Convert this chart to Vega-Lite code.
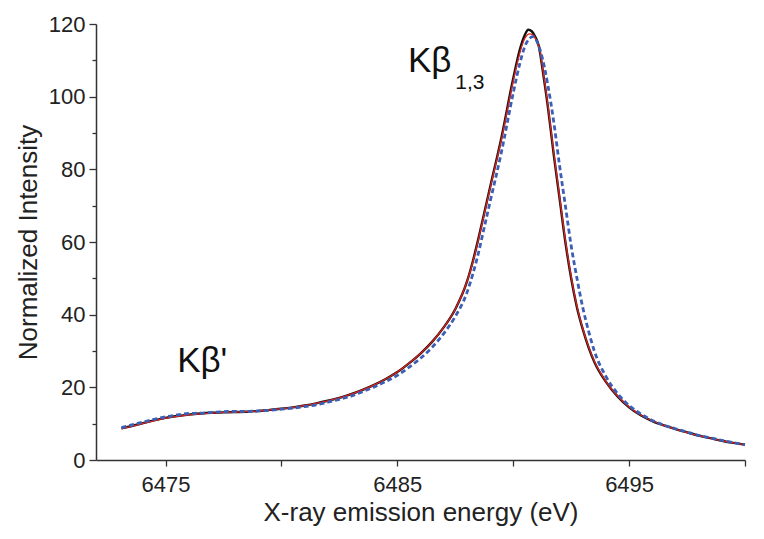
{
  "$schema": "https://vega.github.io/schema/vega-lite/v6.json",
  "width": 649,
  "height": 436,
  "autosize": {"type": "none"},
  "padding": {"left": 96, "top": 24, "right": 19, "bottom": 79},
  "background": "white",
  "config": {
    "view": {"stroke": null},
    "font": "Liberation Sans",
    "axis": {"grid": false, "domainColor": "#333", "domainWidth": 1.5, "tickColor": "#333", "tickWidth": 1.3, "labelColor": "#222", "titleColor": "#222", "labelFont": "Liberation Sans", "titleFont": "Liberation Sans", "titleFontWeight": "normal", "labelFontSize": 22, "titleFontSize": 26}
  },
  "datasets": {
    "black": [
      {"E": 6473.1, "I": 8.7}, {"E": 6473.5, "I": 9.3}, {"E": 6474.0, "I": 10.1},
      {"E": 6474.5, "I": 10.9}, {"E": 6475.0, "I": 11.6}, {"E": 6475.5, "I": 12.1}, {"E": 6476.0, "I": 12.5},
      {"E": 6476.5, "I": 12.8}, {"E": 6477.0, "I": 13.0}, {"E": 6477.5, "I": 13.1}, {"E": 6478.0, "I": 13.2},
      {"E": 6478.5, "I": 13.3}, {"E": 6479.0, "I": 13.5}, {"E": 6479.5, "I": 13.8}, {"E": 6480.0, "I": 14.1},
      {"E": 6480.5, "I": 14.5}, {"E": 6481.0, "I": 15.0}, {"E": 6481.5, "I": 15.6}, {"E": 6482.0, "I": 16.3},
      {"E": 6482.5, "I": 17.1}, {"E": 6483.0, "I": 18.1}, {"E": 6483.5, "I": 19.3}, {"E": 6484.0, "I": 20.7},
      {"E": 6484.5, "I": 22.3}, {"E": 6485.0, "I": 24.2}, {"E": 6485.5, "I": 26.6}, {"E": 6486.0, "I": 29.3},
      {"E": 6486.5, "I": 32.5}, {"E": 6487.0, "I": 36.5}, {"E": 6487.5, "I": 41.5}, {"E": 6488.0, "I": 49.0},
      {"E": 6488.25, "I": 54.5}, {"E": 6488.5, "I": 61.0}, {"E": 6488.75, "I": 68.0}, {"E": 6489.0, "I": 75.0},
      {"E": 6489.5, "I": 89.0}, {"E": 6490.0, "I": 105.0},
      {"E": 6490.3, "I": 113.3}, {"E": 6490.5, "I": 117.0}, {"E": 6490.65, "I": 118.4}, {"E": 6490.8, "I": 118.0},
      {"E": 6490.95, "I": 116.5}, {"E": 6491.1, "I": 114.0}, {"E": 6491.3, "I": 106.0}, {"E": 6491.5, "I": 97.0},
      {"E": 6491.75, "I": 84.0}, {"E": 6492.0, "I": 72.0}, {"E": 6492.25, "I": 60.0}, {"E": 6492.5, "I": 50.0},
      {"E": 6492.75, "I": 42.0}, {"E": 6493.0, "I": 36.0}, {"E": 6493.25, "I": 31.0}, {"E": 6493.5, "I": 27.0},
      {"E": 6494.0, "I": 21.5}, {"E": 6494.5, "I": 17.5}, {"E": 6495.0, "I": 14.5}, {"E": 6495.5, "I": 12.3},
      {"E": 6496.0, "I": 10.7}, {"E": 6496.5, "I": 9.5}, {"E": 6497.0, "I": 8.5}, {"E": 6497.5, "I": 7.6},
      {"E": 6498.0, "I": 6.7}, {"E": 6498.5, "I": 6.0}, {"E": 6499.0, "I": 5.3}, {"E": 6499.5, "I": 4.7},
      {"E": 6500.0, "I": 4.2}
    ],
    "red": [
      {"E": 6473.1, "I": 8.6}, {"E": 6473.5, "I": 9.2}, {"E": 6474.0, "I": 10.0},
      {"E": 6474.5, "I": 10.8}, {"E": 6475.0, "I": 11.5}, {"E": 6475.5, "I": 12.0}, {"E": 6476.0, "I": 12.4},
      {"E": 6476.5, "I": 12.7}, {"E": 6477.0, "I": 12.9}, {"E": 6477.5, "I": 13.1}, {"E": 6478.0, "I": 13.2},
      {"E": 6478.5, "I": 13.3}, {"E": 6479.0, "I": 13.5}, {"E": 6479.5, "I": 13.8}, {"E": 6480.0, "I": 14.1},
      {"E": 6480.5, "I": 14.5}, {"E": 6481.0, "I": 15.0}, {"E": 6481.5, "I": 15.6}, {"E": 6482.0, "I": 16.3},
      {"E": 6482.5, "I": 17.1}, {"E": 6483.0, "I": 18.1}, {"E": 6483.5, "I": 19.3}, {"E": 6484.0, "I": 20.7},
      {"E": 6484.5, "I": 22.3}, {"E": 6485.0, "I": 24.2}, {"E": 6485.5, "I": 26.6}, {"E": 6486.0, "I": 29.3},
      {"E": 6486.5, "I": 32.5}, {"E": 6487.0, "I": 36.5}, {"E": 6487.5, "I": 41.5}, {"E": 6488.0, "I": 49.0},
      {"E": 6488.25, "I": 54.3}, {"E": 6488.5, "I": 60.7}, {"E": 6488.75, "I": 67.7}, {"E": 6489.0, "I": 74.7},
      {"E": 6489.5, "I": 88.5}, {"E": 6490.0, "I": 104.3},
      {"E": 6490.3, "I": 112.4}, {"E": 6490.5, "I": 116.0}, {"E": 6490.7, "I": 117.3}, {"E": 6490.85, "I": 117.0},
      {"E": 6491.0, "I": 115.5}, {"E": 6491.15, "I": 112.5}, {"E": 6491.3, "I": 106.5}, {"E": 6491.5, "I": 97.5},
      {"E": 6491.75, "I": 84.5}, {"E": 6492.0, "I": 72.5}, {"E": 6492.25, "I": 60.5}, {"E": 6492.5, "I": 50.5},
      {"E": 6492.75, "I": 42.3}, {"E": 6493.0, "I": 36.2}, {"E": 6493.25, "I": 31.2}, {"E": 6493.5, "I": 27.2},
      {"E": 6494.0, "I": 21.6}, {"E": 6494.5, "I": 17.6}, {"E": 6495.0, "I": 14.6}, {"E": 6495.5, "I": 12.4},
      {"E": 6496.0, "I": 10.8}, {"E": 6496.5, "I": 9.5}, {"E": 6497.0, "I": 8.5}, {"E": 6497.5, "I": 7.6},
      {"E": 6498.0, "I": 6.7}, {"E": 6498.5, "I": 6.0}, {"E": 6499.0, "I": 5.3}, {"E": 6499.5, "I": 4.7},
      {"E": 6500.0, "I": 4.2}
    ],
    "blue": [
      {"E": 6473.1, "I": 8.9}, {"E": 6473.5, "I": 9.6}, {"E": 6474.0, "I": 10.4},
      {"E": 6474.5, "I": 11.2}, {"E": 6475.0, "I": 11.9}, {"E": 6475.5, "I": 12.4}, {"E": 6476.0, "I": 12.8},
      {"E": 6476.5, "I": 12.9}, {"E": 6477.0, "I": 13.1}, {"E": 6477.5, "I": 13.3}, {"E": 6478.0, "I": 13.4},
      {"E": 6478.5, "I": 13.4}, {"E": 6479.0, "I": 13.5}, {"E": 6479.5, "I": 13.7}, {"E": 6480.0, "I": 14.0},
      {"E": 6480.5, "I": 14.3}, {"E": 6481.0, "I": 14.7}, {"E": 6481.5, "I": 15.2}, {"E": 6482.0, "I": 15.9},
      {"E": 6482.5, "I": 16.7}, {"E": 6483.0, "I": 17.6}, {"E": 6483.5, "I": 18.8}, {"E": 6484.0, "I": 20.1},
      {"E": 6484.5, "I": 21.6}, {"E": 6485.0, "I": 23.3}, {"E": 6485.5, "I": 25.5}, {"E": 6486.0, "I": 28.0},
      {"E": 6486.5, "I": 31.0}, {"E": 6487.0, "I": 34.8}, {"E": 6487.5, "I": 39.5}, {"E": 6488.0, "I": 46.0},
      {"E": 6488.25, "I": 51.0}, {"E": 6488.5, "I": 57.0}, {"E": 6488.75, "I": 64.0}, {"E": 6489.0, "I": 71.0},
      {"E": 6489.5, "I": 85.0}, {"E": 6490.0, "I": 101.0},
      {"E": 6490.3, "I": 109.5}, {"E": 6490.5, "I": 113.8}, {"E": 6490.7, "I": 116.0}, {"E": 6490.85, "I": 116.5},
      {"E": 6491.0, "I": 115.5}, {"E": 6491.2, "I": 112.0}, {"E": 6491.5, "I": 103.0}, {"E": 6491.75, "I": 93.0},
      {"E": 6492.0, "I": 81.0}, {"E": 6492.25, "I": 70.0}, {"E": 6492.5, "I": 59.0}, {"E": 6492.75, "I": 50.0},
      {"E": 6493.0, "I": 42.0}, {"E": 6493.25, "I": 35.5}, {"E": 6493.5, "I": 30.0}, {"E": 6494.0, "I": 23.0},
      {"E": 6494.5, "I": 18.3}, {"E": 6495.0, "I": 15.0}, {"E": 6495.5, "I": 12.7}, {"E": 6496.0, "I": 10.9},
      {"E": 6496.5, "I": 9.6}, {"E": 6497.0, "I": 8.6}, {"E": 6497.5, "I": 7.7}, {"E": 6498.0, "I": 6.8},
      {"E": 6498.5, "I": 6.1}, {"E": 6499.0, "I": 5.4}, {"E": 6499.5, "I": 4.8}, {"E": 6500.0, "I": 4.2}
    ],
    "labels": [
      {"E": 6485.46, "I": 106.8, "text": "Kβ", "size": "big"},
      {"E": 6487.5, "I": 102.2, "text": "1,3", "size": "sub"},
      {"E": 6475.5, "I": 24.2, "text": "Kβ'", "size": "big"}
    ]
  },
  "encoding": {
    "x": {
      "field": "E", "type": "quantitative",
      "scale": {"domain": [6472, 6500], "nice": false, "zero": false},
      "axis": {
        "title": "X-ray emission energy (eV)",
        "values": [6475, 6480, 6485, 6490, 6495, 6500],
        "labelExpr": "(datum.value - 6475) % 10 === 0 ? datum.label : ''",
        "format": "d",
        "tickSize": 6,
        "labelPadding": 8,
        "titlePadding": 4
      }
    },
    "y": {
      "field": "I", "type": "quantitative",
      "scale": {"domain": [0, 120], "nice": false},
      "axis": {
        "title": "Normalized Intensity",
        "values": [0, 10, 20, 30, 40, 50, 60, 70, 80, 90, 100, 110, 120],
        "labelExpr": "datum.value % 20 === 0 ? datum.label : ''",
        "tickSize": {"condition": {"test": "datum.value % 20 === 0", "value": 7}, "value": 4},
        "labelPadding": 4,
        "titlePadding": 7
      }
    }
  },
  "layer": [
    {"data": {"name": "black"}, "mark": {"type": "line", "color": "#111111", "strokeWidth": 2.4, "interpolate": "monotone"}},
    {"data": {"name": "red"}, "mark": {"type": "line", "color": "#e0201b", "strokeWidth": 1.3, "interpolate": "monotone"}},
    {"data": {"name": "blue"}, "mark": {"type": "line", "color": "#3b5fb5", "strokeWidth": 2.8, "strokeDash": [5, 3], "interpolate": "monotone"}},
    {
      "data": {"name": "labels"},
      "transform": [{"filter": "datum.size === 'big'"}],
      "mark": {"type": "text", "align": "left", "baseline": "alphabetic", "fontSize": 35, "font": "Liberation Sans", "color": "#111"},
      "encoding": {"text": {"field": "text"}}
    },
    {
      "data": {"name": "labels"},
      "transform": [{"filter": "datum.size === 'sub'"}],
      "mark": {"type": "text", "align": "left", "baseline": "alphabetic", "fontSize": 21, "font": "Liberation Sans", "color": "#111"},
      "encoding": {"text": {"field": "text"}}
    }
  ]
}
